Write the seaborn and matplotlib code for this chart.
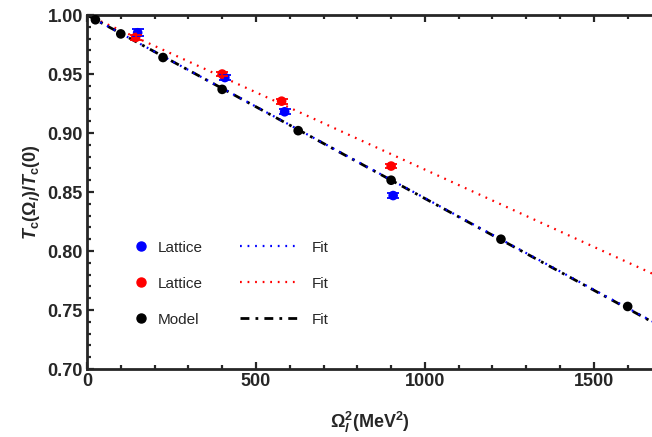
import numpy as np
import pandas as pd
import matplotlib
matplotlib.use("Agg")
import matplotlib.pyplot as plt
from matplotlib.ticker import MultipleLocator, FormatStrFormatter
import seaborn as sns

# ---- data ----
model_x = [25, 100, 225, 400, 625, 900, 1225, 1600]
model_y = [0.996, 0.984, 0.964, 0.937, 0.902, 0.860, 0.810, 0.753]

lat_blue_x = [150, 408, 585, 906]
lat_blue_y = [0.985, 0.947, 0.918, 0.847]
lat_blue_err = [0.003, 0.002, 0.002, 0.002]

lat_red_x = [144, 400, 576, 900]
lat_red_y = [0.981, 0.950, 0.927, 0.872]
lat_red_err = [0.002, 0.002, 0.002, 0.002]

# linear fits  y = intercept + slope * x
fit_intercept = 1.0
fit_blue_slope = -1.552e-4
fit_red_slope = -1.31e-4
fit_black_slope = -1.555e-4
fit_x_range = [0, 1700]

xlabel = r"$\mathbf{\Omega}_{\mathbfit{l}}^{\mathbf{2}}\mathbf{(MeV^2)}$"
ylabel = r"$\mathbfit{T}_{\mathbf{c}}\mathbf{(\Omega}_{\mathbfit{l}}\mathbf{)/}\mathbfit{T}_{\mathbf{c}}\mathbf{(0)}$"

# ---- style ----
sns.set_style("ticks")
plt.rcParams["font.family"] = ["Liberation Sans", "DejaVu Sans"]
plt.rcParams["mathtext.fontset"] = "custom"
plt.rcParams["mathtext.rm"] = "Liberation Sans:bold"
plt.rcParams["mathtext.bf"] = "Liberation Sans:bold"
plt.rcParams["mathtext.it"] = "Liberation Sans:italic:bold"
plt.rcParams["mathtext.bfit"] = "Liberation Sans:italic:bold"

fig = plt.figure(figsize=(6.52, 4.37), dpi=100)
ax = fig.add_axes([0.1334, 0.1556, 0.8666, 0.81])

BLUE = "#0000ff"
RED = "#ff0000"
BLACK = "#000000"

fx = np.array(fit_x_range, dtype=float)
fits = pd.DataFrame({
    "x": np.concatenate([fx, fx, fx]),
    "y": np.concatenate([fit_intercept + fit_blue_slope * fx,
                         fit_intercept + fit_red_slope * fx,
                         fit_intercept + fit_black_slope * fx]),
    "s": ["b"] * 2 + ["r"] * 2 + ["k"] * 2,
})

lw = 1.6
sns.lineplot(data=fits[fits.s == "r"], x="x", y="y", color=RED, lw=lw, ax=ax, label="Fit")
l_red = ax.lines[-1]
l_red.set_dashes((0.8, 2.6))
sns.lineplot(data=fits[fits.s == "k"], x="x", y="y", color=BLACK, lw=lw + 0.4, ax=ax, label="Fit")
l_black = ax.lines[-1]
l_black.set_dashes((3.2, 2.2, 1.0, 2.2))
sns.lineplot(data=fits[fits.s == "b"], x="x", y="y", color=BLUE, lw=lw, ax=ax, label="Fit")
l_blue = ax.lines[-1]
l_blue.set_dashes((0.8, 2.6))

sns.scatterplot(x=model_x, y=model_y, color=BLACK, s=48, edgecolor="none", ax=ax, zorder=4, label="Model")
sns.scatterplot(x=lat_blue_x, y=lat_blue_y, color=BLUE, s=48, edgecolor="none", ax=ax, zorder=4, label="Lattice")
sns.scatterplot(x=lat_red_x, y=lat_red_y, color=RED, s=48, edgecolor="none", ax=ax, zorder=4, label="Lattice")

ax.errorbar(lat_blue_x, lat_blue_y, yerr=lat_blue_err, fmt="none", ecolor=BLUE,
            elinewidth=1.3, capsize=4.5, capthick=1.3, zorder=5)
ax.errorbar(lat_red_x, lat_red_y, yerr=lat_red_err, fmt="none", ecolor=RED,
            elinewidth=1.3, capsize=4.5, capthick=1.3, zorder=5)

ax.set_xlim(0, 1672)
ax.set_ylim(0.70, 1.00)

ax.xaxis.set_major_locator(MultipleLocator(500))
ax.xaxis.set_minor_locator(MultipleLocator(100))
ax.yaxis.set_major_locator(MultipleLocator(0.05))
ax.yaxis.set_minor_locator(MultipleLocator(0.01))
ax.yaxis.set_major_formatter(FormatStrFormatter("%.2f"))

for s in ["left", "bottom", "top"]:
    ax.spines[s].set_linewidth(2.0)
    ax.spines[s].set_visible(True)
ax.spines["right"].set_visible(False)

ax.tick_params(which="both", direction="in", width=1.6, top=True, right=False,
               labelsize=13, pad=3)
ax.tick_params(which="major", length=5)
ax.tick_params(which="minor", length=3)
for lab in ax.get_xticklabels() + ax.get_yticklabels():
    lab.set_fontweight("bold")

ax.set_xlabel(xlabel, fontsize=13, labelpad=14)
ax.set_ylabel(ylabel, fontsize=13, labelpad=4)

# legends
pt_handles = [
    plt.Line2D([], [], ls="none", marker="o", ms=6.5, color=BLUE),
    plt.Line2D([], [], ls="none", marker="o", ms=6.5, color=RED),
    plt.Line2D([], [], ls="none", marker="o", ms=6.5, color=BLACK),
]
leg1 = ax.legend(pt_handles, ["Lattice", "Lattice", "Model"], loc="upper left",
                 bbox_to_anchor=(0.082, 0.363), frameon=False, fontsize=11,
                 handlelength=1.0, handletextpad=0.6, labelspacing=1.45,
                 borderpad=0, borderaxespad=0)
ax.add_artist(leg1)
ax.legend([l_blue, l_red, l_black], ["Fit", "Fit", "Fit"], loc="upper left",
          bbox_to_anchor=(0.271, 0.363), frameon=False, fontsize=11,
          handlelength=3.8, handletextpad=0.9, labelspacing=1.45,
          borderpad=0, borderaxespad=0)

fig.savefig("out.png", dpi=100)
